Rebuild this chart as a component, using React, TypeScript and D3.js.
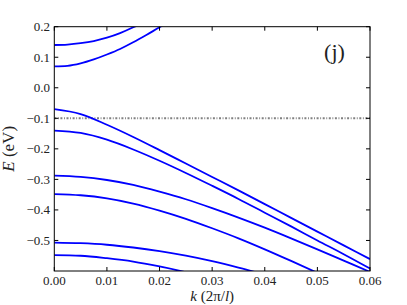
import React from 'react';
import * as d3 from 'd3';

// wave vector samples, units of 2π/l
const kCoarse = [0, 0.005, 0.01, 0.015, 0.02, 0.025, 0.03, 0.035, 0.04, 0.045, 0.05, 0.055, 0.06];
const kFine = [0, 0.0025, 0.005, 0.0075, 0.01, 0.0125, 0.015, 0.0175, 0.02, 0.0225];

// conduction bands (on kFine)
const cond1 = [0.14, 0.1415, 0.146, 0.153, 0.164, 0.179, 0.198, 0.22];
const cond2 = [0.07, 0.072, 0.08, 0.093, 0.109, 0.127, 0.149, 0.173, 0.198, 0.222];

// valence bands (on kCoarse)
const val1 = [-0.07, -0.086, -0.121, -0.161, -0.204, -0.248, -0.292, -0.336, -0.381, -0.426, -0.471, -0.516, -0.561];
const val2 = [-0.14, -0.148, -0.17, -0.202, -0.239, -0.279, -0.321, -0.364, -0.409, -0.454, -0.5, -0.545, -0.592];
const val3 = [-0.288, -0.292, -0.302, -0.318, -0.34, -0.365, -0.394, -0.425, -0.458, -0.493, -0.529, -0.566, -0.603];
const val4 = [-0.348, -0.352, -0.362, -0.379, -0.402, -0.429, -0.46, -0.493, -0.529, -0.567, -0.606];
const val5 = [-0.507, -0.509, -0.514, -0.523, -0.535, -0.55, -0.568, -0.589, -0.612];
const val6 = [-0.548, -0.55, -0.558, -0.569, -0.585, -0.604];

const fermiLevel = -0.1;

const xTicks = [0, 0.01, 0.02, 0.03, 0.04, 0.05, 0.06];
const yTicks = [-0.5, -0.4, -0.3, -0.2, -0.1, 0.0, 0.1, 0.2];

const W = 407;
const H = 305;
const left = 54.3;
const right = 370;
const top = 26.7;
const bottom = 271;

export default function App() {
  const x = d3.scaleLinear().domain([0, 0.06]).range([left, right]);
  const y = d3.scaleLinear().domain([-0.6, 0.2]).range([bottom, top]);

  const line = d3
    .line<[number, number]>()
    .x((d) => x(d[0]))
    .y((d) => y(d[1]))
    .curve(d3.curveMonotoneX);

  const bands = [
    { k: kFine, e: cond1 },
    { k: kFine, e: cond2 },
    { k: kCoarse, e: val1 },
    { k: kCoarse, e: val2 },
    { k: kCoarse, e: val3 },
    { k: kCoarse, e: val4 },
    { k: kCoarse, e: val5 },
    { k: kCoarse, e: val6 },
  ];

  const fx = d3.format('.2f');
  const fy = d3.format('.1f');
  const tick = 4;
  const font = "'Liberation Serif', 'Times New Roman', 'DejaVu Serif', serif";

  return (
    <svg width={W} height={H} style={{ position: 'absolute', left: 0, top: 0, background: '#fff' }}>
      <defs>
        <clipPath id="plot">
          <rect x={left} y={top} width={right - left} height={bottom - top} />
        </clipPath>
      </defs>

      <g clipPath="url(#plot)">
        <line
          x1={x(0)}
          x2={x(0.06)}
          y1={y(fermiLevel)}
          y2={y(fermiLevel)}
          stroke="#808080"
          strokeWidth={2}
          strokeDasharray="2 1.6 0.9 1.6"
        />
        {bands.map((b, i) => (
          <path
            key={i}
            d={line(b.e.map((v, j) => [b.k[j], v] as [number, number])) || ''}
            fill="none"
            stroke="#0000ff"
            strokeWidth={1.8}
          />
        ))}
      </g>

      <rect x={left} y={top} width={right - left} height={bottom - top} fill="none" stroke="#000" strokeWidth={1} />

      <g style={{ fontFamily: font }} fill="#222">
        {xTicks.map((t) => (
          <g key={'x' + t}>
            <line x1={x(t)} x2={x(t)} y1={bottom} y2={bottom - tick} stroke="#000" />
            <line x1={x(t)} x2={x(t)} y1={top} y2={top + tick} stroke="#000" />
            <text x={x(t)} y={284.5} textAnchor="middle" fontSize={13}>
              {fx(t)}
            </text>
          </g>
        ))}

        {yTicks.map((t) => (
          <g key={'y' + t}>
            <line x1={left} x2={left + tick} y1={y(t)} y2={y(t)} stroke="#000" />
            <line x1={right} x2={right - tick} y1={y(t)} y2={y(t)} stroke="#000" />
            <text x={50} y={y(t) + 4.5} textAnchor="end" fontSize={13}>
              {fy(t)}
            </text>
          </g>
        ))}

        <text x={(left + right) / 2} y={301} textAnchor="middle" fontSize={15}>
          <tspan fontStyle="italic">k</tspan> (2π/<tspan fontStyle="italic">l</tspan>)
        </text>

        <text transform={`translate(14,${(top + bottom) / 2}) rotate(-90)`} textAnchor="middle" fontSize={17}>
          <tspan fontStyle="italic">E</tspan> (eV)
        </text>

        <text x={334.5} y={59} textAnchor="middle" fontSize={22}>
          (j)
        </text>
      </g>
    </svg>
  );
}
